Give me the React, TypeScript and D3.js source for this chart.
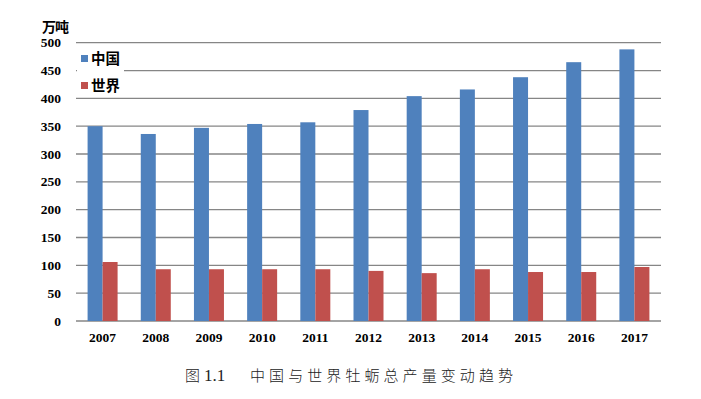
import React from "react";
import * as d3 from "d3";

const years = ["2007", "2008", "2009", "2010", "2011", "2012", "2013", "2014", "2015", "2016", "2017"];
const china = [350, 336, 347, 354, 357, 379, 404, 416, 438, 465, 488];
const world = [106, 93, 93, 93, 93, 90, 86, 93, 88, 88, 97];
const yTicks = [0, 50, 100, 150, 200, 250, 300, 350, 400, 450, 500];
const seriesNames = ["中国", "世界"];
const colors = ["#4F81BD", "#C0504D"];

export default function App() {
  const W = 701, H = 399;
  const left = 76, right = 661, top = 42.7, bottom = 321;
  const x = d3.scaleBand<string>().domain(years).range([left, right]);
  const y = d3.scaleLinear().domain([0, 500]).range([bottom, top]);
  const barW = 15;
  const serif = "'Liberation Serif', 'Times New Roman', serif";
  const cjk = "'Noto Sans CJK SC', sans-serif";
  return (
    <svg width={W} height={H} style={{ position: "absolute", left: 0, top: 0, background: "#fff" }}>
      {yTicks.map((t) => (
        <g key={t}>
          <line x1={left} x2={right} y1={y(t)} y2={y(t)} stroke="#868686" strokeWidth={1.3} />
          <text x={61} y={y(t) + 4.5} textAnchor="end" fontFamily={serif} fontWeight="bold" fontSize={13.5} fill="#000">
            {t}
          </text>
        </g>
      ))}
      {years.map((yr, i) => {
        const cx = (x(yr) as number) + x.bandwidth() / 2;
        return (
          <g key={yr}>
            <rect x={cx - barW} y={y(china[i])} width={barW} height={bottom - y(china[i])} fill={colors[0]} />
            <rect x={cx} y={y(world[i])} width={barW} height={bottom - y(world[i])} fill={colors[1]} />
            <text x={cx} y={342} textAnchor="middle" fontFamily={serif} fontWeight="bold" fontSize={13.5} fill="#000">
              {yr}
            </text>
          </g>
        );
      })}
      <rect x={77} y={46} width={47} height={50} fill="#fff" />
      {seriesNames.map((n, i) => (
        <g key={n}>
          <rect x={81} y={55 + i * 27} width={7} height={7} fill={colors[i]} />
          <text x={91} y={64 + i * 27} fontFamily={cjk} fontWeight="bold" fontSize={14.5} fill="#000">
            {n}
          </text>
        </g>
      ))}
      <text x={42} y={32} fontFamily={cjk} fontWeight="bold" fontSize={14} fill="#000" letterSpacing={-1}>
        万吨
      </text>
      <text x={185} y={381} fontFamily={cjk} fontWeight={300} fontSize={15} fill="#222">
        图
      </text>
      <text x={204} y={381} fontFamily={serif} fontSize={17} fill="#222">
        1.1
      </text>
      <text x={250} y={381} fontFamily={cjk} fontWeight={300} fontSize={15} fill="#222" textLength={263} lengthAdjust="spacing">
        中国与世界牡蛎总产量变动趋势
      </text>
    </svg>
  );
}
